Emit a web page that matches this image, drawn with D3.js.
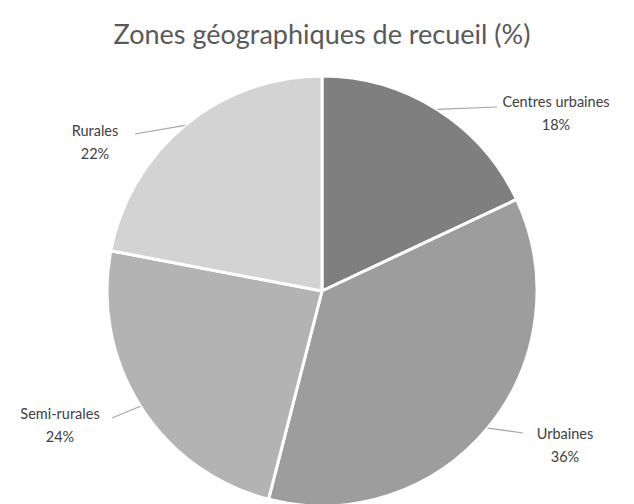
<!DOCTYPE html>
<html>
<head>
<meta charset="utf-8">
<script src="https://cdn.jsdelivr.net/npm/d3@7"></script>
<style>
  body { margin: 0; background: #fff; }
  text { font-family: Lato, "Open Sans", sans-serif; }
</style>
</head>
<body>
<div id="pie"></div>
<script>
// Pie chart: geographic collection zones (%)

// Data
let categories = ["Centres urbaines", "Urbaines", "Semi-rurales", "Rurales"];
let values = [18, 36, 24, 22];
let colours = ["#7f7f7f", "#9d9d9d", "#b3b3b3", "#d3d3d3"];

// Where the label text sits (centre of the two-line block), and where the leader ends
let labelPos = [[556, 101], [565, 433], [60, 413], [95, 130]];
let lineEnd = [[497, 107], [523, 433], [112, 418], [135, 134]];

// Set chart size
let width = 634,
    height = 504,
    cx = 322,
    cy = 291,
    radius = 215;

let svg = d3.select("#pie")
    .append("svg")
    .attr("width", width)
    .attr("height", height);

// Title
svg.append("text")
    .attr("x", 322)
    .attr("y", 44)
    .attr("text-anchor", "middle")
    .attr("font-size", 27)
    .attr("fill", "#595959")
    .text("Zones géographiques de recueil (%)");

let data = categories.map((c, i) => ({name: c, value: values[i], colour: colours[i]}));

let pie = d3.pie()
    .sort(null)
    .value(d => d.value);

let arc = d3.arc()
    .innerRadius(0)
    .outerRadius(radius);

let g = svg.append("g")
    .attr("transform", `translate(${cx}, ${cy})`);

let arcs = pie(data);

g.selectAll("path")
    .data(arcs)
    .enter()
    .append("path")
    .attr("d", arc)
    .attr("fill", d => d.data.colour)
    .attr("stroke", "#fff")
    .attr("stroke-width", 3)
    .attr("stroke-linejoin", "round");

// Leader lines: from the arc edge at the middle angle to the label
svg.selectAll("polyline.leader")
    .data(arcs)
    .enter()
    .append("polyline")
    .classed("leader", true)
    .attr("fill", "none")
    .attr("stroke", "#a6a6a6")
    .attr("stroke-width", 1.2)
    .attr("points", (d, i) => {
        let a = (d.startAngle + d.endAngle) / 2;
        let sx = cx + radius * Math.sin(a),
            sy = cy - radius * Math.cos(a);
        return [[sx, sy], lineEnd[i]].map(p => p.join(",")).join(" ");
    });

// Labels
let labels = svg.selectAll("text.label")
    .data(arcs)
    .enter()
    .append("text")
    .classed("label", true)
    .attr("text-anchor", "middle")
    .attr("font-size", 14.5)
    .attr("fill", "#404040");

labels.append("tspan")
    .attr("x", (d, i) => labelPos[i][0])
    .attr("y", (d, i) => labelPos[i][1] + 6)
    .text(d => d.data.name);

labels.append("tspan")
    .attr("x", (d, i) => labelPos[i][0])
    .attr("y", (d, i) => labelPos[i][1] + 29)
    .text(d => d.data.value + "%");
</script>
</body>
</html>
